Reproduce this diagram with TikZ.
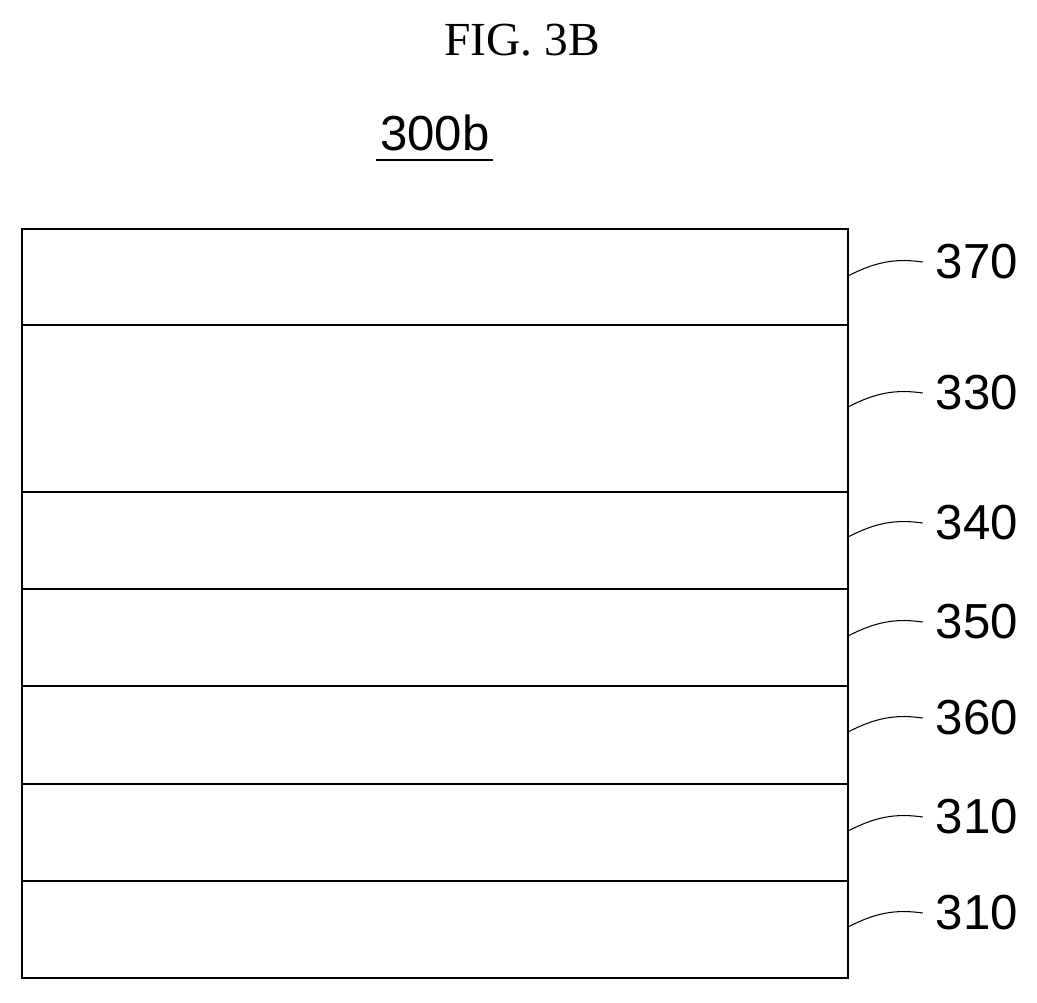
\documentclass[tikz,border=0pt]{standalone}
\usepackage{fontspec}
\setmainfont{Liberation Serif}
\newfontfamily\labelfont{Liberation Sans}
\usetikzlibrary{positioning}

\begin{document}
\begin{tikzpicture}[x=0.02cm,y=-0.02cm,thick,every node/.style={inner sep=0pt},
  numlabel/.style={font=\labelfont\fontsize{28}{30}\selectfont,anchor=west}]
\useasboundingbox (0,0) rectangle (1037,1002);
\node (fig) at (522,40) {\fontsize{27}{30}\selectfont FIG. 3B};
\node (ref) at (435,133) {\labelfont\fontsize{28}{30}\selectfont 300b};
\draw[semithick] (376,160) -- (493,160);
% layer stack
\draw (22,229) rectangle (848,978);
\foreach \y in {325,492,589,686,784,881}
  \draw (22,\y) -- (848,\y);
% labels with leaders
\foreach \name/\txt/\ly in {a/370/262,b/330/393,c/340/523,d/350/622,e/360/718,f/310/817,g/310/913}{
  \node[numlabel] (\name) at (935,\ly) {\txt};
  \coordinate (\name s) at (848,\ly+14);
  \draw[semithick] (\name s) .. controls (875,\ly) and (895,\ly-4) .. ([xshift=-7]\name.west);
}
\end{tikzpicture}
\end{document}
